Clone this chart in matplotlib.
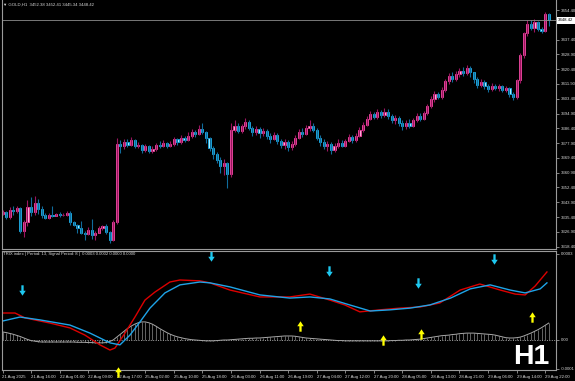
import numpy as np
import matplotlib
matplotlib.use("Agg")
import matplotlib.pyplot as plt
from matplotlib.path import Path
from matplotlib.transforms import blended_transform_factory

# ---- GOLD H1 candles (bar 0 = 21 Aug 08:00 ... bar 153 = 29 Aug 23:00)
first_open = 3337.2
closes = [
    3338.3, 3335.4, 3339.5, 3338.9, 3340.5, 3327.5, 3332.6, 3341.0, 3338.5, 3343.5,
    3340.0, 3336.8, 3335.0, 3336.8, 3336.2, 3337.0, 3336.4, 3336.6, 3338.0, 3332.5,
    3331.0, 3329.0, 3326.5, 3325.5, 3328.0, 3325.0, 3326.5, 3329.0, 3330.0, 3326.8,
    3322.5, 3332.6, 3377.5, 3376.0, 3378.5, 3377.0, 3379.5, 3376.5, 3377.0, 3374.0,
    3376.0, 3373.5, 3374.5, 3377.0, 3376.0, 3378.0, 3376.5, 3377.5, 3380.0, 3378.5,
    3381.0, 3379.5, 3382.0, 3384.5, 3383.0, 3386.0, 3384.5, 3381.0, 3375.0, 3371.5,
    3368.0, 3365.0, 3366.5, 3360.0, 3385.5, 3388.0, 3385.0, 3387.5, 3390.0, 3386.5,
    3384.0, 3386.0, 3383.5, 3385.0, 3382.0, 3380.5, 3382.5, 3379.0, 3377.0, 3378.5,
    3375.5, 3377.5, 3381.0, 3384.5, 3383.0, 3386.5, 3388.0, 3385.5, 3381.0, 3378.5,
    3376.0, 3377.5, 3374.0, 3376.5, 3378.0, 3376.5, 3379.0, 3381.5, 3379.5, 3382.0,
    3385.5, 3388.5, 3392.0, 3394.5, 3393.0, 3395.5, 3394.0, 3396.0, 3393.5, 3391.0,
    3392.5, 3389.5, 3387.5, 3389.5, 3388.0, 3391.0, 3393.5, 3392.0, 3395.0, 3399.0,
    3403.0, 3406.0, 3404.5, 3408.5, 3413.5, 3416.5, 3414.5, 3417.5, 3419.5, 3418.0,
    3421.0, 3418.5, 3414.5, 3411.5, 3413.0, 3410.5, 3409.0, 3411.0, 3409.5, 3410.5,
    3408.5, 3409.5, 3406.0, 3404.5, 3414.0, 3428.5, 3441.0, 3446.4, 3444.0, 3447.5,
    3443.5, 3442.5, 3452.38, 3448.42,
]
highs = [
    3339.5, 3339.0, 3341.0, 3341.6, 3341.5, 3341.0, 3333.8, 3345.0, 3346.9, 3347.5,
    3345.5, 3341.5, 3337.5, 3337.5, 3341.8, 3338.0, 3338.5, 3337.6, 3338.8, 3338.6,
    3333.0, 3331.5, 3333.0, 3327.5, 3329.5, 3334.3, 3327.5, 3330.0, 3331.0, 3331.5,
    3327.5, 3333.5, 3381.0, 3379.5, 3380.0, 3380.5, 3381.5, 3380.0, 3378.5, 3377.5,
    3377.5, 3377.0, 3376.0, 3378.0, 3379.0, 3379.5, 3378.5, 3379.0, 3381.5, 3381.0,
    3382.5, 3382.0, 3384.0, 3386.0, 3385.5, 3388.5, 3389.5, 3385.0, 3381.5, 3376.0,
    3373.0, 3370.0, 3368.5, 3367.0, 3389.5, 3391.0, 3389.5, 3389.0, 3392.5, 3391.0,
    3388.0, 3387.5, 3387.0, 3386.5, 3386.0, 3383.5, 3384.0, 3383.5, 3380.5, 3380.0,
    3379.5, 3379.0, 3382.5, 3386.0, 3386.5, 3388.5, 3391.0, 3389.5, 3386.5, 3382.5,
    3380.0, 3379.0, 3378.5, 3378.0, 3380.0, 3379.5, 3380.5, 3383.0, 3382.5, 3383.5,
    3387.0, 3390.0, 3393.5, 3396.5, 3396.0, 3397.5, 3397.0, 3398.0, 3397.5, 3394.5,
    3394.0, 3393.5, 3391.0, 3391.0, 3391.5, 3392.5, 3395.0, 3395.0, 3396.5, 3400.5,
    3405.0, 3408.0, 3407.5, 3410.0, 3415.0, 3418.0, 3418.5, 3419.5, 3421.0, 3421.5,
    3423.0, 3422.5, 3419.0, 3416.0, 3414.5, 3414.0, 3412.0, 3412.5, 3412.0, 3412.0,
    3411.5, 3411.0, 3410.0, 3407.5, 3415.0, 3429.5, 3442.0, 3448.7, 3448.5, 3449.5,
    3448.0, 3444.5, 3453.3, 3452.41,
]
lows = [
    3336.5, 3334.0, 3334.5, 3336.5, 3338.0, 3326.0, 3324.0, 3330.0, 3336.0, 3336.5,
    3337.0, 3335.0, 3334.0, 3334.5, 3335.5, 3335.8, 3335.5, 3336.0, 3336.0, 3331.0,
    3330.0, 3326.5, 3325.5, 3322.5, 3325.0, 3322.7, 3322.0, 3326.0, 3328.0, 3325.5,
    3320.5, 3321.5, 3331.5, 3372.5, 3374.5, 3375.5, 3376.0, 3375.0, 3375.0, 3372.0,
    3373.0, 3372.5, 3372.0, 3373.5, 3375.0, 3375.5, 3375.0, 3375.5, 3376.5, 3377.0,
    3377.5, 3378.5, 3379.0, 3381.0, 3381.5, 3382.5, 3383.0, 3378.0, 3373.5, 3369.0,
    3366.5, 3361.0, 3359.5, 3352.0, 3358.5, 3384.0, 3383.5, 3383.5, 3386.0, 3385.5,
    3382.0, 3382.5, 3381.0, 3382.0, 3380.5, 3378.0, 3379.5, 3377.5, 3375.0, 3374.5,
    3373.5, 3374.0, 3376.0, 3380.0, 3381.5, 3382.5, 3385.0, 3384.0, 3379.5, 3376.0,
    3374.5, 3373.5, 3371.5, 3373.0, 3375.0, 3375.5, 3375.5, 3378.5, 3378.0, 3378.5,
    3381.5, 3384.5, 3387.5, 3391.0, 3391.5, 3392.0, 3392.5, 3393.0, 3392.0, 3389.5,
    3389.0, 3388.0, 3385.5, 3386.0, 3386.5, 3387.0, 3390.0, 3390.5, 3391.0, 3394.0,
    3398.0, 3401.5, 3403.0, 3403.5, 3407.5, 3412.0, 3413.0, 3413.5, 3416.0, 3416.5,
    3417.0, 3416.0, 3412.5, 3409.5, 3410.0, 3409.0, 3407.5, 3408.0, 3408.5, 3408.0,
    3407.0, 3407.5, 3404.5, 3402.5, 3403.0, 3412.5, 3427.0, 3439.5, 3443.0, 3441.5,
    3442.5, 3441.0, 3442.0, 3445.34,
]
opens = [first_open] + closes[:-1]

price_ticks = [3454.40, 3437.40, 3428.90, 3420.40, 3411.90, 3403.40, 3394.90, 3386.40,
               3377.90, 3369.40, 3360.90, 3352.40, 3343.90, 3335.40, 3326.90, 3318.40]
last_price = 3448.42

time_bars = list(range(0, 153, 8))
time_labels = ["21 Aug 2025", "21 Aug 16:00", "22 Aug 01:00", "22 Aug 09:00", "22 Aug 17:00",
               "25 Aug 02:00", "25 Aug 10:00", "25 Aug 18:00", "26 Aug 03:00", "26 Aug 11:00",
               "26 Aug 19:00", "27 Aug 04:00", "27 Aug 12:00", "27 Aug 20:00", "28 Aug 05:00",
               "28 Aug 13:00", "28 Aug 21:00", "29 Aug 06:00", "29 Aug 14:00", "29 Aug 22:00"]

# ---- TRIX panel (values in units of 1e-4)
trix_bars = [0, 3.5, 6.3, 13.3, 18.9, 23.1, 27.3, 30.1, 31.5, 34.3, 37.1, 39.9, 42.7, 46.9,
             49.7, 55.3, 58.1, 63.7, 72.1, 80.5, 86.1, 91.7, 95.9, 100.1, 105.7, 111.3,
             117.0, 122.5, 128.2, 133.7, 139.4, 143.6, 146.4, 149.2, 152.5]
trix_vals = [0.94, 0.94, 0.77, 0.59, 0.42, 0.17, -0.17, -0.35, -0.28, 0.24, 0.80, 1.39,
             1.67, 2.02, 2.09, 2.06, 1.99, 1.74, 1.50, 1.50, 1.60, 1.39, 1.22, 0.98, 1.05,
             1.11, 1.15, 1.29, 1.74, 1.95, 1.74, 1.60, 1.57, 1.88, 2.37]
signal_bars = [0, 4.9, 10.5, 18.9, 24.5, 30.1, 32.9, 35.7, 38.5, 41.3, 45.5, 49.7, 55.3,
               58.1, 63.7, 72.1, 80.5, 86.1, 91.7, 97.3, 103.0, 108.5, 114.1, 119.7, 125.5,
               131.0, 136.6, 142.2, 146.4, 150.6, 152.5]
signal_vals = [0.66, 0.80, 0.70, 0.52, 0.24, -0.10, -0.17, 0.17, 0.63, 1.11, 1.64, 1.92,
               2.02, 1.99, 1.85, 1.57, 1.46, 1.50, 1.43, 1.22, 1.01, 1.05, 1.11, 1.22, 1.46,
               1.78, 1.92, 1.74, 1.64, 1.78, 1.99]
hist_vals = [
    0.28, 0.26, 0.23, 0.20, 0.16, 0.12, 0.07, 0.02, -0.02, -0.04,
    -0.06, -0.07, -0.07, -0.07, -0.07, -0.07, -0.07, -0.07, -0.07, -0.07,
    -0.07, -0.08, -0.08, -0.08, -0.09, -0.09, -0.10, -0.10, -0.10, -0.09,
    -0.05, 0.00, 0.10, 0.20, 0.30, 0.40, 0.48, 0.55, 0.60, 0.63,
    0.63, 0.60, 0.55, 0.48, 0.40, 0.33, 0.26, 0.20, 0.15, 0.11,
    0.08, 0.05, 0.03, 0.01, 0.00, -0.01, -0.02, -0.03, -0.03, -0.03,
    -0.02, -0.01, 0.00, 0.00, 0.01, 0.02, 0.03, 0.04, 0.05, 0.06,
    0.06, 0.07, 0.07, 0.08, 0.09, 0.10, 0.11, 0.12, 0.13, 0.14,
    0.14, 0.14, 0.13, 0.11, 0.09, 0.07, 0.06, 0.05, 0.04, 0.03,
    0.02, 0.01, 0.00, -0.01, -0.02, -0.02, -0.03, -0.03, -0.03, -0.03,
    -0.03, -0.03, -0.03, -0.03, -0.03, -0.03, -0.03, -0.03, -0.03, -0.02,
    -0.02, -0.01, -0.01, 0.00, 0.00, 0.01, 0.02, 0.03, 0.05, 0.07,
    0.09, 0.11, 0.13, 0.15, 0.16, 0.17, 0.19, 0.20, 0.22, 0.23,
    0.24, 0.24, 0.24, 0.23, 0.22, 0.21, 0.20, 0.19, 0.17, 0.14,
    0.11, 0.08, 0.07, 0.07, 0.08, 0.10, 0.14, 0.19, 0.24, 0.30,
    0.36, 0.43, 0.51, 0.59,
]
sell_bars = [5.5, 58.4, 91.5, 116.4, 137.7]
sell_vals = [1.74, 2.93, 2.40, 1.99, 2.82]
buy_bars = [32.4, 83.3, 106.6, 117.2, 148.3]
buy_vals = [-1.11, 0.49, 0.0, 0.21, 0.80]

BULL_FACE, BULL_EDGE, BULL_WICK = "#ffb4de", "#f2409e", "#9c1460"
BEAR_FACE, BEAR_EDGE, BEAR_WICK = "#b4f2ff", "#12aae8", "#106c9c"
FRAME = "#9a9a9a"
TXT = "#d8d8d8"
plt.rcParams["font.family"] = ["Liberation Sans", "DejaVu Sans"]

W, H = 575, 381
fig = plt.figure(figsize=(W / 100, H / 100), dpi=100, facecolor="black")
px_per_bar = 3.57
left_px, right_px = 2, 556
xmin = -0.5 / px_per_bar
xmax = xmin + (right_px - left_px) / px_per_bar

ax1 = fig.add_axes([left_px / W, (H - 249) / H, (right_px - left_px) / W, 249 / H])
ax2 = fig.add_axes([left_px / W, 11 / H, (right_px - left_px) / W, 119 / H])

for ax in (ax1, ax2):
    ax.set_facecolor("black")
    ax.set_xlim(xmin, xmax)
    for s in ax.spines.values():
        s.set_color(FRAME)
        s.set_linewidth(0.8)
    ax.yaxis.tick_right()
    ax.tick_params(axis="y", direction="out", length=2, width=0.6, pad=1.5,
                   labelsize=3.1, color=FRAME, labelcolor=TXT)
ax1.spines["top"].set_visible(False)

# candles
bars = np.arange(len(closes))
o = np.array(opens); c = np.array(closes)
h = np.maximum(np.array(highs), np.maximum(o, c))
l = np.minimum(np.array(lows), np.minimum(o, c))
up = c >= o
ax1.vlines(bars[up], l[up], h[up], color=BULL_WICK, lw=0.8)
ax1.vlines(bars[~up], l[~up], h[~up], color=BEAR_WICK, lw=0.8)
body = np.where(np.abs(c - o) < 0.4, 0.4, c - o)
ax1.bar(bars[up], body[up], bottom=o[up], width=0.6, color=BULL_FACE,
        edgecolor=BULL_EDGE, lw=0.6)
ax1.bar(bars[~up], body[~up], bottom=o[~up], width=0.6, color=BEAR_FACE,
        edgecolor=BEAR_EDGE, lw=0.6)

ax1.set_ylim(3454.4 - 239 / 1.74, 3454.4 + 10 / 1.74)
ax1.set_xticks([])
ax1.set_yticks(price_ticks, [f"{p:.2f}" for p in price_ticks])
ax1.axhline(last_price, color="#8c8c8c", lw=0.6)
tr = blended_transform_factory(ax1.transAxes, ax1.transData)
ax1.text(1.004, last_price, f"{last_price:.2f}", transform=tr, ha="left", va="center",
         fontsize=3.1, color="black",
         bbox=dict(boxstyle="square,pad=0.35", fc="white", ec="none"))

fig.text(3 / W, 1 - 4.5 / H, "\u25bc GOLD,H1  3452.38 3452.41 3445.34 3448.42",
         fontsize=3.1, color=TXT, va="center", ha="left")

# TRIX panel
ax2.set_ylim(-1.045, 3.10)
ax2.vlines(bars, 0, hist_vals, color="#8a8a8a", lw=0.5)
ax2.plot(bars, hist_vals, color="#a8a8a8", lw=0.7)
ax2.axhline(0, color="#a0a0a0", lw=0.7, ls=(0, (1, 1.5)))
ax2.plot(trix_bars, trix_vals, color="#dc0000", lw=1.0)
ax2.plot(signal_bars, signal_vals, color="#1ea4e8", lw=1.0)

down_arrow = Path([(-0.22, 1.0), (0.22, 1.0), (0.22, -0.05), (0.62, -0.05), (0, -1.0),
                   (-0.62, -0.05), (-0.22, -0.05), (-0.22, 1.0)], closed=True)
up_arrow = Path([(-0.22, -1.0), (0.22, -1.0), (0.22, 0.05), (0.62, 0.05), (0, 1.0),
                 (-0.62, 0.05), (-0.22, 0.05), (-0.22, -1.0)], closed=True)
ax2.plot(sell_bars, sell_vals, ls="none", marker=down_arrow, ms=7.5, color="#1ec8f0",
         mec="none", clip_on=False)
ax2.plot(buy_bars, buy_vals, ls="none", marker=up_arrow, ms=7.5, color="#ffff00",
         mec="none", clip_on=False, zorder=5)

ax2.set_yticks([3, 0, -1], ["0.0003", "0.00", "-0.0001"])
ax2.set_xticks(time_bars, time_labels)
ax2.tick_params(axis="x", direction="out", length=2.5, width=0.6, pad=0.8,
                labelsize=3.1, color=FRAME, labelcolor=TXT)
for lab in ax2.get_xticklabels():
    lab.set_horizontalalignment("left")

fig.text(3 / W, 1 - 253.5 / H,
         "TRIX index | Period: 13, Signal Period: 8 |  0.0003 0.0002 0.0000 0.0000",
         fontsize=3.1, color=TXT, va="center", ha="left")

fig.text(513 / W, 1 - 364 / H, "H1", fontsize=20.5, fontweight="bold", color="white",
         ha="left", va="baseline")

fig.savefig("out.png", dpi=100, facecolor="black")
